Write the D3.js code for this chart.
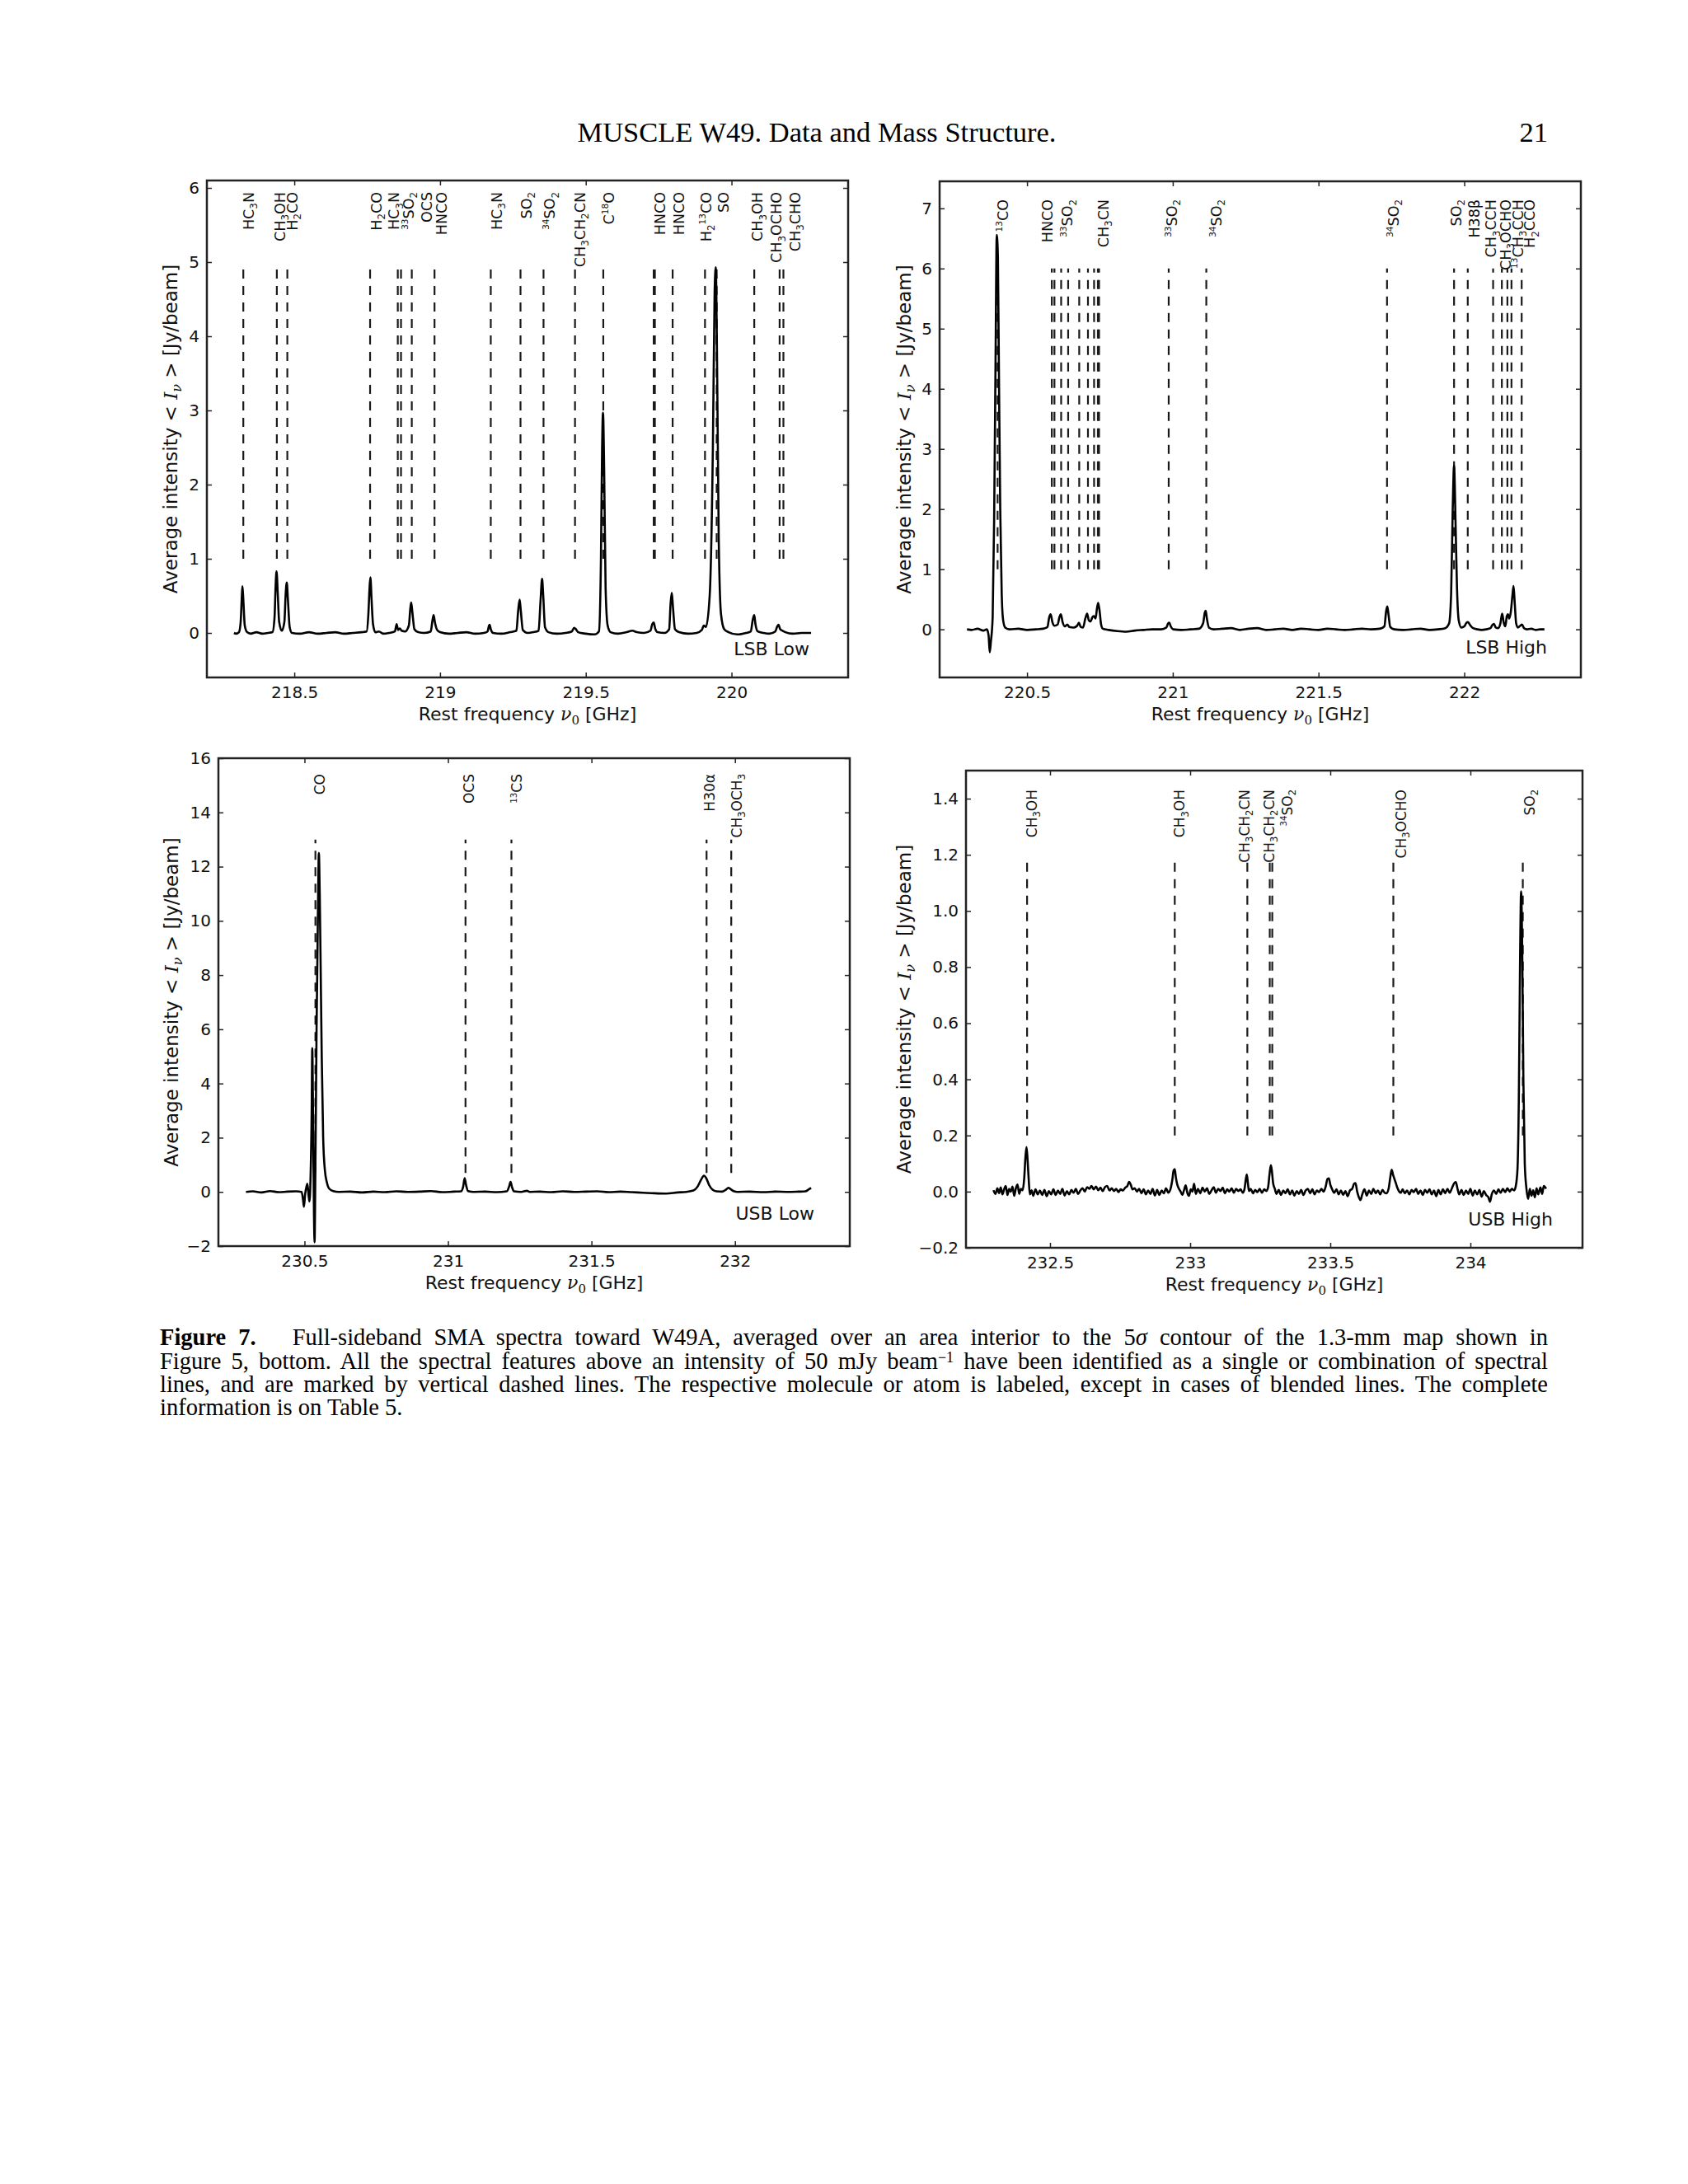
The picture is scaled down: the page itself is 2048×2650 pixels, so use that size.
<!DOCTYPE html>
<html>
<head>
<meta charset="utf-8">
<script src="https://cdn.jsdelivr.net/npm/d3@7"></script>
<style>
  body { margin: 0; background: #fff; }
</style>
</head>
<body>
<script>
// ---- data ----

// LSB Low spectrum [GHz, Jy/beam]
const lsbLowSpec = [
  [218.293,0.00],[218.300,-0.01],[218.310,0.01],[218.316,0.15],[218.320,0.50],[218.322,0.63],[218.325,0.45],[218.330,0.10],[218.338,0.01],
  [218.350,-0.01],[218.370,0.01],[218.390,-0.01],[218.410,0.00],[218.425,0.01],[218.432,0.20],[218.436,0.65],[218.439,0.83],[218.443,0.55],
  [218.448,0.15],[218.457,0.03],[218.466,0.15],[218.470,0.50],[218.474,0.68],[218.478,0.45],[218.484,0.08],[218.492,0.00],[218.52,-0.01],
  [218.55,0.01],[218.58,-0.01],[218.61,0.00],[218.64,0.01],[218.67,-0.01],[218.70,0.00],[218.73,0.01],[218.748,0.02],[218.754,0.25],
  [218.758,0.60],[218.761,0.75],[218.765,0.45],[218.770,0.12],[218.778,0.01],[218.790,0.02],[218.805,-0.01],[218.825,0.00],[218.845,0.02],
  [218.851,0.12],[218.856,0.04],[218.862,0.06],[218.868,0.03],[218.880,0.02],[218.893,0.10],[218.898,0.33],[218.901,0.41],[218.905,0.28],
  [218.912,0.05],[218.925,0.01],[218.945,0.00],[218.968,0.02],[218.974,0.17],[218.978,0.24],[218.982,0.15],[218.990,0.04],[219.00,0.01],
  [219.03,-0.01],[219.06,0.00],[219.09,0.01],[219.12,-0.01],[219.150,0.00],[219.163,0.02],[219.168,0.10],[219.170,0.11],[219.174,0.05],
  [219.182,0.00],[219.21,-0.01],[219.24,0.01],[219.262,0.03],[219.268,0.30],[219.273,0.45],[219.277,0.30],[219.284,0.04],[219.30,0.00],
  [219.320,0.01],[219.338,0.03],[219.345,0.45],[219.350,0.73],[219.354,0.50],[219.360,0.08],[219.372,0.01],[219.40,-0.01],[219.43,0.00],
  [219.452,0.02],[219.460,0.07],[219.466,0.05],[219.474,0.01],[219.50,-0.01],[219.53,-0.02],[219.545,0.02],[219.552,1.00],[219.556,2.50],
  [219.559,2.97],[219.563,2.20],[219.568,0.60],[219.575,0.10],[219.585,0.01],[219.61,-0.01],[219.64,0.01],[219.66,0.03],[219.675,0.01],
  [219.70,0.00],[219.722,0.03],[219.728,0.12],[219.733,0.14],[219.738,0.06],[219.746,0.01],[219.770,0.00],[219.786,0.05],[219.791,0.40],
  [219.795,0.54],[219.799,0.35],[219.806,0.05],[219.820,0.01],[219.85,-0.01],[219.88,0.00],[219.898,0.04],[219.905,0.10],[219.912,0.08],
  [219.925,0.50],[219.936,2.50],[219.942,4.60],[219.946,4.93],[219.950,3.80],[219.956,1.30],[219.964,0.25],[219.975,0.05],[219.990,0.01],
  [220.02,-0.02],[220.05,0.00],[220.066,0.02],[220.073,0.18],[220.078,0.24],[220.082,0.12],[220.090,0.02],[220.11,0.00],[220.13,-0.01],
  [220.150,0.02],[220.157,0.09],[220.161,0.11],[220.167,0.05],[220.175,0.03],[220.185,0.01],[220.21,-0.01],[220.24,0.00],[220.273,0.00]
];
const lsbLowLines = [218.325,218.440,218.476,218.760,218.855,218.866,218.903,218.981,219.174,219.276,219.355,219.463,219.560,
  219.733,219.737,219.798,219.909,219.949,220.078,220.165,220.178];
const lsbLowNames = ["HC_3N","CH_3OH","H_2CO","H_2CO","HC_3N","^{33}SO_2","OCS","HNCO","HC_3N","SO_2","^{34}SO_2","CH_3CH_2CN",
  "C^{18}O","HNCO","HNCO","H_2^{13}CO","SO","CH_3OH","CH_3OCHO","CH_3CHO"];
const lsbLowNameFreqs = [218.343,218.450,218.493,218.781,218.842,218.892,218.956,219.006,219.194,219.296,219.377,219.480,
  219.581,219.755,219.819,219.912,219.973,220.090,220.154,220.218];

// LSB High
const lsbHighSpec = [
  [220.294,0.00],[220.31,-0.01],[220.33,0.01],[220.35,-0.02],[220.362,0.00],[220.368,-0.10],[220.372,-0.38],[220.376,-0.20],[220.382,0.20],
  [220.387,1.80],[220.392,4.50],[220.396,6.56],[220.400,6.20],[220.404,4.00],[220.408,2.00],[220.413,0.60],[220.418,0.15],[220.425,0.03],
  [220.44,0.00],[220.47,0.01],[220.50,-0.01],[220.53,0.00],[220.555,0.01],[220.570,0.04],[220.576,0.20],[220.581,0.25],[220.587,0.12],
  [220.594,0.06],[220.605,0.08],[220.611,0.20],[220.616,0.25],[220.622,0.12],[220.630,0.05],[220.638,0.08],[220.645,0.04],[220.660,0.03],
  [220.672,0.06],[220.678,0.11],[220.684,0.04],[220.692,0.03],[220.700,0.18],[220.706,0.26],[220.712,0.15],[220.718,0.13],[220.724,0.20],
  [220.729,0.22],[220.735,0.18],[220.740,0.35],[220.744,0.44],[220.749,0.30],[220.754,0.08],[220.760,0.01],[220.78,-0.01],[220.81,-0.03],
  [220.84,-0.04],[220.87,-0.02],[220.90,-0.01],[220.93,0.00],[220.96,0.00],[220.978,0.03],[220.984,0.10],[220.988,0.11],[220.993,0.05],
  [221.002,0.00],[221.03,-0.01],[221.06,0.00],[221.090,0.01],[221.104,0.10],[221.110,0.28],[221.113,0.31],[221.117,0.18],[221.124,0.03],
  [221.14,0.00],[221.17,0.01],[221.20,0.02],[221.23,-0.01],[221.26,0.01],[221.29,0.02],[221.32,-0.01],[221.35,0.00],[221.38,0.01],
  [221.41,-0.01],[221.44,0.01],[221.47,0.00],[221.50,-0.01],[221.53,0.01],[221.56,0.00],[221.59,-0.01],[221.62,0.00],[221.65,0.01],
  [221.68,0.00],[221.71,0.01],[221.726,0.05],[221.732,0.30],[221.736,0.38],[221.740,0.25],[221.746,0.04],[221.76,0.00],[221.79,-0.01],
  [221.82,0.00],[221.85,0.01],[221.88,-0.01],[221.91,0.00],[221.935,0.02],[221.948,0.10],[221.955,0.60],[221.960,1.90],[221.965,2.72],
  [221.970,1.80],[221.975,0.70],[221.981,0.15],[221.990,0.03],[222.000,0.05],[222.008,0.11],[222.013,0.12],[222.020,0.07],[222.030,0.02],
  [222.045,0.00],[222.060,-0.01],[222.075,0.00],[222.090,0.02],[222.096,0.07],[222.102,0.09],[222.108,0.03],[222.116,0.02],[222.124,0.10],
  [222.130,0.26],[222.136,0.10],[222.141,0.05],[222.146,0.22],[222.150,0.25],[222.154,0.18],[222.160,0.30],[222.165,0.55],[222.169,0.72],
  [222.173,0.45],[222.178,0.10],[222.184,0.03],[222.192,0.06],[222.198,0.08],[222.205,0.02],[222.215,0.00],[222.23,0.01],[222.245,-0.01],
  [222.26,0.00],[222.275,0.00]
];
const lsbHighLines = [220.399,220.585,220.594,220.617,220.641,220.679,220.709,220.730,220.743,220.747,220.986,221.115,221.735,
  221.965,222.012,222.099,222.129,222.148,222.162,222.197];
const lsbHighNames = ["^{13}CO","HNCO","^{33}SO_2","CH_3CN","^{33}SO_2","^{34}SO_2","^{34}SO_2","SO_2","H38\u03b2","CH_3CCH",
  "CH_3OCHO","^{13}CH_3CCH","H_2CCO"];
const lsbHighNameFreqs = [220.417,220.570,220.639,220.762,220.996,221.150,221.758,221.972,222.034,222.092,222.141,222.184,222.225];

// USB Low
const usbLowSpec = [
  [230.296,0.00],[230.32,0.02],[230.35,-0.02],[230.38,0.03],[230.41,-0.01],[230.44,0.01],[230.47,0.02],[230.490,0.00],[230.495,-0.30],
  [230.498,-0.55],[230.502,-0.10],[230.507,0.20],[230.510,0.30],[230.514,-0.10],[230.517,-0.35],[230.521,0.50],[230.525,3.00],[230.527,5.30],
  [230.530,2.50],[230.533,-0.80],[230.535,-1.86],[230.538,1.00],[230.542,6.00],[230.547,10.50],[230.550,12.50],[230.553,11.00],[230.556,8.50],
  [230.560,5.00],[230.565,2.00],[230.571,0.80],[230.578,0.35],[230.586,0.12],[230.600,0.03],[230.62,0.00],[230.66,0.01],[230.70,-0.02],
  [230.74,0.01],[230.78,-0.01],[230.82,0.02],[230.86,0.00],[230.90,0.01],[230.94,0.03],[230.98,-0.01],[231.02,0.01],[231.045,0.02],
  [231.053,0.20],[231.058,0.51],[231.063,0.25],[231.070,0.03],[231.09,0.00],[231.13,0.01],[231.17,-0.01],[231.205,0.02],[231.213,0.20],
  [231.218,0.37],[231.223,0.18],[231.230,0.02],[231.255,0.00],[231.275,0.04],[231.285,0.00],[231.32,0.01],[231.36,-0.01],[231.40,0.02],
  [231.44,0.00],[231.48,0.01],[231.52,0.02],[231.56,-0.01],[231.60,0.01],[231.64,-0.01],[231.68,-0.03],[231.72,-0.05],[231.76,-0.06],
  [231.80,-0.02],[231.83,0.00],[231.855,0.05],[231.870,0.20],[231.882,0.45],[231.892,0.60],[231.900,0.50],[231.910,0.25],[231.922,0.08],
  [231.935,0.02],[231.955,0.01],[231.968,0.08],[231.977,0.15],[231.985,0.10],[231.995,0.03],[232.01,0.00],[232.05,0.01],[232.10,-0.01],
  [232.14,0.01],[232.18,0.00],[232.22,0.01],[232.245,0.02],[232.258,0.10],[232.265,0.15]
];
const usbLowLines = [230.538,231.061,231.221,231.901,231.987];
const usbLowNames = ["CO","OCS","^{13}CS","H30\u03b1","CH_3OCH_3"];
const usbLowNameFreqs = [230.554,231.074,231.241,231.913,232.007];

// USB High
const usbHighSpec = [
  [232.298,0.005],[232.305,-0.008],[232.312,0.012],[232.318,-0.005],[232.324,0.015],[232.330,-0.010],[232.336,0.008],[232.342,0.020],
  [232.348,-0.012],[232.354,0.010],[232.360,0.000],[232.366,0.018],[232.372,-0.015],[232.378,0.012],[232.384,0.025],[232.390,-0.008],
  [232.396,0.010],[232.402,0.005],[232.408,0.050],[232.412,0.120],[232.416,0.159],[232.420,0.110],[232.424,0.040],[232.428,-0.010],
  [232.434,0.005],[232.440,-0.015],[232.448,0.008],[232.456,-0.010],[232.464,0.004],[232.472,-0.012],[232.480,0.006],[232.488,-0.016],
  [232.496,0.002],[232.504,-0.010],[232.512,0.008],[232.520,-0.012],[232.528,0.004],[232.536,-0.008],[232.544,0.010],[232.552,-0.014],
  [232.560,0.002],[232.568,-0.010],[232.576,0.006],[232.584,-0.004],[232.592,0.010],[232.600,-0.008],[232.608,0.004],[232.616,0.012],
  [232.624,0.000],[232.632,0.016],[232.640,0.010],[232.648,0.020],[232.656,0.008],[232.664,0.018],[232.672,0.005],[232.680,0.014],
  [232.688,0.002],[232.696,0.016],[232.704,0.020],[232.712,0.004],[232.720,0.012],[232.728,0.002],[232.736,0.010],[232.744,-0.002],
  [232.752,0.008],[232.760,0.004],[232.768,0.014],[232.776,0.020],[232.782,0.035],[232.788,0.025],[232.794,0.008],[232.802,0.012],
  [232.810,0.000],[232.818,0.010],[232.826,-0.006],[232.834,0.008],[232.842,-0.010],[232.850,0.004],[232.858,-0.008],[232.866,0.010],
  [232.874,-0.014],[232.882,0.006],[232.890,-0.012],[232.898,0.004],[232.906,-0.006],[232.914,0.012],[232.922,-0.004],[232.930,0.010],
  [232.936,0.040],[232.941,0.075],[232.945,0.080],[232.949,0.050],[232.954,0.025],[232.960,0.010],[232.966,0.000],[232.972,-0.012],
  [232.978,0.005],[232.984,0.022],[232.990,-0.005],[232.996,-0.015],[233.002,0.008],[233.008,0.000],[233.014,0.028],[233.020,-0.008],
  [233.028,0.010],[233.036,-0.006],[233.044,0.014],[233.052,0.000],[233.060,0.012],[233.068,-0.008],[233.076,0.004],[233.084,0.016],
  [233.092,-0.004],[233.100,0.010],[233.108,0.002],[233.116,0.014],[233.124,-0.006],[233.132,0.008],[233.140,0.000],[233.148,0.012],
  [233.156,-0.004],[233.164,0.010],[233.172,0.002],[233.180,0.008],[233.188,-0.004],[233.194,0.010],[233.198,0.040],[233.202,0.061],
  [233.206,0.030],[233.210,0.002],[233.216,0.010],[233.224,-0.006],[233.232,0.006],[233.240,-0.002],[233.248,0.010],[233.256,-0.004],
  [233.264,0.008],[233.272,0.002],[233.278,0.015],[233.283,0.060],[233.288,0.094],[233.292,0.070],[233.296,0.030],[233.302,0.010],
  [233.308,-0.008],[233.316,0.006],[233.324,-0.012],[233.332,0.004],[233.340,-0.006],[233.348,0.008],[233.356,-0.010],[233.364,0.004],
  [233.372,-0.014],[233.380,0.002],[233.388,-0.008],[233.396,0.006],[233.404,-0.012],[233.412,0.004],[233.420,0.010],[233.428,-0.006],
  [233.436,0.008],[233.444,-0.010],[233.452,0.004],[233.460,-0.002],[233.468,0.010],[233.476,0.000],[233.484,0.020],[233.490,0.045],
  [233.495,0.047],[233.500,0.025],[233.506,0.010],[233.514,-0.004],[233.522,0.008],[233.530,-0.010],[233.538,0.004],[233.546,-0.012],
  [233.554,0.002],[233.562,-0.016],[233.570,0.004],[233.578,0.010],[233.585,0.028],[233.590,0.030],[233.596,0.000],[233.602,-0.020],
  [233.608,-0.030],[233.614,-0.010],[233.622,0.008],[233.630,-0.014],[233.638,0.004],[233.646,-0.008],[233.654,0.010],[233.662,-0.006],
  [233.670,0.004],[233.678,-0.010],[233.686,0.006],[233.694,-0.004],[233.700,-0.006],[233.708,0.010],[233.714,0.050],[233.719,0.078],
  [233.724,0.060],[233.729,0.045],[233.734,0.030],[233.740,0.012],[233.746,0.000],[233.752,-0.004],[233.758,0.008],[233.766,-0.006],
  [233.774,0.004],[233.782,-0.010],[233.790,0.006],[233.798,-0.002],[233.806,0.010],[233.814,-0.008],[233.822,0.004],[233.830,-0.012],
  [233.838,0.006],[233.846,-0.004],[233.854,0.008],[233.862,-0.010],[233.870,0.004],[233.878,-0.016],[233.886,0.006],[233.894,-0.010],
  [233.902,0.008],[233.910,-0.006],[233.918,0.010],[233.926,-0.004],[233.934,0.012],[233.942,0.030],[233.948,0.034],[233.954,0.010],
  [233.960,-0.010],[233.968,0.006],[233.976,-0.012],[233.984,0.004],[233.992,-0.008],[234.000,0.010],[234.008,-0.014],[234.016,0.004],
  [234.024,-0.010],[234.032,0.006],[234.040,-0.018],[234.048,0.002],[234.056,-0.012],[234.064,-0.020],[234.070,-0.036],[234.076,-0.010],
  [234.084,0.004],[234.092,-0.008],[234.100,0.008],[234.108,-0.004],[234.116,0.010],[234.124,-0.002],[234.132,0.012],[234.140,0.000],
  [234.148,0.010],[234.156,0.004],[234.162,0.020],[234.168,0.080],[234.173,0.350],[234.177,0.800],[234.181,1.070],[234.185,0.850],
  [234.189,0.400],[234.194,0.100],[234.200,0.010],[234.206,-0.026],[234.212,0.010],[234.218,-0.015],[234.224,0.005],[234.230,-0.020],
  [234.236,0.012],[234.242,-0.010],[234.250,0.015],[234.256,-0.008],[234.262,0.020],[234.270,0.010]
];
const usbHighLines = [232.418,232.945,233.204,233.284,233.293,233.725,234.187];
const usbHighNames = ["CH_3OH","CH_3OH","CH_3CH_2CN","CH_3CH_2CN","^{34}SO_2","CH_3OCHO","SO_2"];
const usbHighNameFreqs = [232.436,232.963,233.194,233.282,233.346,233.753,234.212];

// axis ticks
const lsbLowTicksX = [218.5, 219, 219.5, 220];
const lsbLowTicksY = [0, 1, 2, 3, 4, 5, 6];
const lsbHighTicksX = [220.5, 221, 221.5, 222];
const lsbHighTicksY = [0, 1, 2, 3, 4, 5, 6, 7];
const usbLowTicksX = [230.5, 231, 231.5, 232];
const usbLowTicksY = [-2, 0, 2, 4, 6, 8, 10, 12, 14, 16];
const usbHighTicksX = [232.5, 233, 233.5, 234];
const usbHighTicksY = [-0.2, 0.0, 0.2, 0.4, 0.6, 0.8, 1.0, 1.2, 1.4];

// ---- drawing ----
const sans = '"DejaVu Sans", sans-serif';
const serif = '"Liberation Serif", "DejaVu Serif", serif';
const mathSerif = '"DejaVu Serif", serif';

const svg = d3.select('body').append('svg')
    .attr('width', 2048)
    .attr('height', 2650)
    .attr('font-family', sans)
    .style('background', '#fff');

// write "CH_3OH", "^{13}CO" etc. as tspans
function rich(t, str, size) {
  const re = /_\{([^}]*)\}|_(.)|\^\{([^}]*)\}|([^_^]+)/g;
  let m, cur = 0;
  while ((m = re.exec(str))) {
    let txt, off = 0, fs = size;
    if (m[1] !== undefined || m[2] !== undefined) { txt = m[1] !== undefined ? m[1] : m[2]; off = 0.25 * size; fs = 0.68 * size; }
    else if (m[3] !== undefined) { txt = m[3]; off = -0.4 * size; fs = 0.6 * size; }
    else txt = m[4];
    t.append('tspan').attr('dy', off - cur).attr('font-size', fs).text(txt);
    cur = off;
  }
}

function minus(s) { return s.replace('-', '\u2212'); }

function drawPanel(p) {
  const x = d3.scaleLinear().domain(p.xDom).range([p.left, p.right]);
  const y = d3.scaleLinear().domain(p.yDom).range([p.bottom, p.top]);
  const g = svg.append('g');

  // dashed line markers
  g.selectAll('line.mark').data(p.lines).enter().append('line')
      .attr('class', 'mark')
      .attr('x1', d => x(d)).attr('x2', d => x(d))
      .attr('y1', y(p.markRange[0])).attr('y2', y(p.markRange[1]))
      .attr('stroke', '#1a1a1a').attr('stroke-width', 2.2)
      .attr('stroke-dasharray', '11,9');

  // spectrum
  const line = d3.line().x(d => x(d[0])).y(d => y(d[1])).curve(d3.curveMonotoneX);
  g.append('path').datum(p.spec)
      .attr('d', line)
      .attr('fill', 'none')
      .attr('stroke', '#000')
      .attr('stroke-width', 2.6)
      .attr('stroke-linejoin', 'round');

  // molecule labels, rotated
  p.names.forEach((nm, i) => {
    const t = g.append('text')
        .attr('transform', 'translate(' + (x(p.nameFreqs[i]) + 0.35 * p.labelSize) + ',' + (p.top + p.labelTop) + ') rotate(-90)')
        .attr('text-anchor', 'end')
        .attr('font-size', p.labelSize)
        .attr('fill', '#111');
    rich(t, nm, p.labelSize);
  });

  // frame
  g.append('rect')
      .attr('x', p.left).attr('y', p.top)
      .attr('width', p.right - p.left).attr('height', p.bottom - p.top)
      .attr('fill', 'none').attr('stroke', '#222').attr('stroke-width', 2.5);

  // axes, ticks pointing inward on all four sides
  const tk = 6;
  g.append('g').attr('transform', 'translate(0,' + p.bottom + ')')
      .call(d3.axisBottom(x).tickValues(p.ticksX).tickSize(-tk).tickPadding(11).tickFormat(d => String(d)))
      .call(a => a.select('.domain').remove());
  g.append('g').attr('transform', 'translate(0,' + p.top + ')')
      .call(d3.axisTop(x).tickValues(p.ticksX).tickSize(-tk).tickFormat(''))
      .call(a => a.select('.domain').remove());
  g.append('g').attr('transform', 'translate(' + p.left + ',0)')
      .call(d3.axisLeft(y).tickValues(p.ticksY).tickSize(-tk).tickPadding(9).tickFormat(d => minus(d.toFixed(p.yDec))))
      .call(a => a.select('.domain').remove());
  g.append('g').attr('transform', 'translate(' + p.right + ',0)')
      .call(d3.axisRight(y).tickValues(p.ticksY).tickSize(-tk).tickFormat(''))
      .call(a => a.select('.domain').remove());
  g.selectAll('.tick line').attr('stroke', '#222').attr('stroke-width', 1.5);
  g.selectAll('.tick text')
      .style('font-size', '20px')
      .style('font-family', sans)
      .attr('fill', '#111');

  // x label
  const xl = g.append('text')
      .attr('x', (p.left + p.right) / 2).attr('y', p.bottom + 52)
      .attr('text-anchor', 'middle').attr('font-size', 22).attr('fill', '#111');
  xl.append('tspan').text('Rest frequency ');
  xl.append('tspan').attr('font-family', mathSerif).attr('font-style', 'italic').text('\u03bd');
  xl.append('tspan').attr('dy', 5).attr('font-size', 15).attr('font-family', mathSerif).text('0');
  xl.append('tspan').attr('dy', -5).text(' [GHz]');

  // y label
  const cy = (p.top + p.bottom) / 2;
  const yl = g.append('text')
      .attr('transform', 'translate(' + (p.ylabelX + 8) + ',' + cy + ') rotate(-90)')
      .attr('text-anchor', 'middle').attr('font-size', 23).attr('fill', '#111');
  yl.append('tspan').text('Average intensity < ');
  yl.append('tspan').attr('font-family', mathSerif).attr('font-style', 'italic').text('I');
  yl.append('tspan').attr('dy', 5).attr('font-size', 16).attr('font-family', mathSerif).attr('font-style', 'italic').text('\u03bd');
  yl.append('tspan').attr('dy', -5).text(' > [Jy/beam]');

  // band tag
  g.append('text')
      .attr('x', p.tagX).attr('y', p.tagY)
      .attr('text-anchor', 'end').attr('font-size', 22).attr('fill', '#111')
      .text(p.tag);
}

drawPanel({ left: 251, right: 1029, top: 219, bottom: 822, xDom: [218.2, 220.4], yDom: [-0.6, 6.1],
  spec: lsbLowSpec, lines: lsbLowLines, names: lsbLowNames, nameFreqs: lsbLowNameFreqs, markRange: [1, 5],
  ticksX: lsbLowTicksX, ticksY: lsbLowTicksY, yDec: 0, labelSize: 17.5, labelTop: 14,
  ylabelX: 207, tag: 'LSB Low', tagX: 982, tagY: 795 });

drawPanel({ left: 1140, right: 1918, top: 220, bottom: 822, xDom: [220.2, 222.4], yDom: [-0.8, 7.45],
  spec: lsbHighSpec, lines: lsbHighLines, names: lsbHighNames, nameFreqs: lsbHighNameFreqs, markRange: [1, 6],
  ticksX: lsbHighTicksX, ticksY: lsbHighTicksY, yDec: 0, labelSize: 17.5, labelTop: 22,
  ylabelX: 1097, tag: 'LSB High', tagX: 1877, tagY: 793 });

drawPanel({ left: 265, right: 1031, top: 920, bottom: 1512, xDom: [230.2, 232.4], yDom: [-2, 16],
  spec: usbLowSpec, lines: usbLowLines, names: usbLowNames, nameFreqs: usbLowNameFreqs, markRange: [0.7, 13],
  ticksX: usbLowTicksX, ticksY: usbLowTicksY, yDec: 0, labelSize: 17, labelTop: 19,
  ylabelX: 208, tag: 'USB Low', tagX: 988, tagY: 1480 });

drawPanel({ left: 1172, right: 1920, top: 935, bottom: 1514, xDom: [232.2, 234.4], yDom: [-0.2, 1.5],
  spec: usbHighSpec, lines: usbHighLines, names: usbHighNames, nameFreqs: usbHighNameFreqs, markRange: [0.2, 1.18],
  ticksX: usbHighTicksX, ticksY: usbHighTicksY, yDec: 1, labelSize: 17, labelTop: 23,
  ylabelX: 1097, tag: 'USB High', tagX: 1884, tagY: 1487 });

// ---- page header ----
svg.append('text').attr('x', 991).attr('y', 172).attr('text-anchor', 'middle')
    .attr('font-family', serif).attr('font-size', 34.5).text('MUSCLE W49. Data and Mass Structure.');
svg.append('text').attr('x', 1878).attr('y', 172).attr('text-anchor', 'end')
    .attr('font-family', serif).attr('font-size', 34.5).text('21');

// ---- caption, justified between capLeft and capRight ----
const capLeft = 194, capRight = 1878, capSize = 28.5;
const capBase = [1632, 1661, 1689, 1717];

function capLine(i, build, justify) {
  const t = svg.append('text').attr('x', capLeft).attr('y', capBase[i])
      .attr('font-family', serif).attr('font-size', capSize).attr('fill', '#000');
  build(t);
  if (justify) {
    const box = t.node().getBBox();
    const spaces = (t.text().match(/ /g) || []).length;
    if (spaces > 0) t.attr('word-spacing', (capRight - box.x - box.width) / spaces);
  }
}

capLine(0, t => {
  t.append('tspan').attr('font-weight', 'bold').text('Figure 7.');
  t.append('tspan').attr('dx', 44).text('Full-sideband SMA spectra toward W49A, averaged over an area interior to the 5');
  t.append('tspan').attr('font-style', 'italic').text('\u03c3');
  t.append('tspan').text(' contour of the 1.3-mm map shown in');
}, true);
capLine(1, t => {
  t.append('tspan').text('Figure 5, bottom. All the spectral features above an intensity of 50 mJy beam');
  t.append('tspan').attr('dy', -8).attr('font-size', 18).text('\u22121');
  t.append('tspan').attr('dy', 8).text(' have been identified as a single or combination of spectral');
}, true);
capLine(2, t => {
  t.text('lines, and are marked by vertical dashed lines. The respective molecule or atom is labeled, except in cases of blended lines. The complete');
}, true);
capLine(3, t => {
  t.text('information is on Table 5.');
}, false);
</script>
</body>
</html>
